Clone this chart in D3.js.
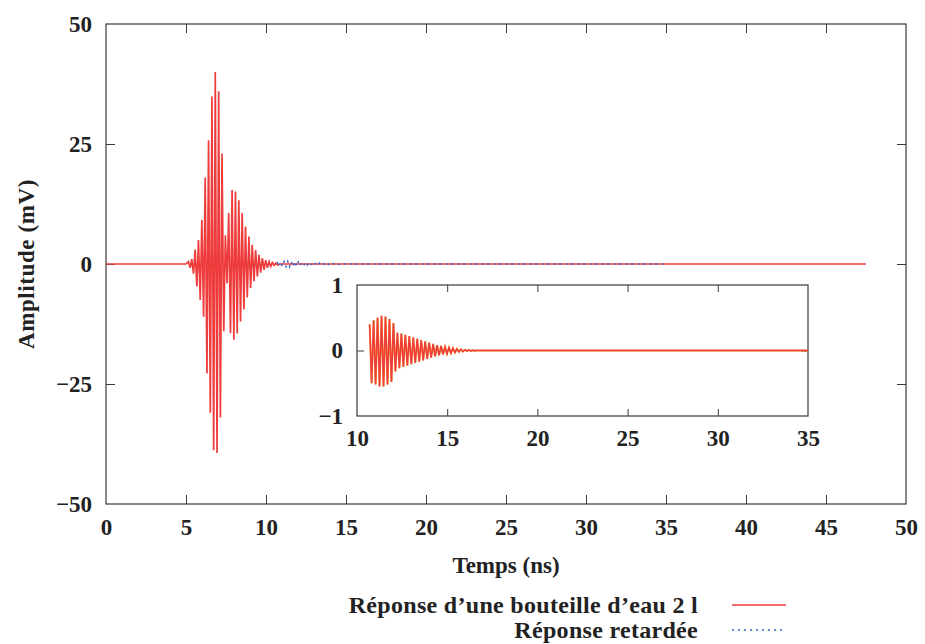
<!DOCTYPE html>
<html>
<head>
<meta charset="utf-8">
<script src="https://cdn.jsdelivr.net/npm/d3@7"></script>
<style>
  body { margin: 0; background: #fff; }
  svg text { font-family: "Liberation Serif", "DejaVu Serif", serif; font-weight: bold; fill: #222; }
</style>
</head>
<body>
<svg id="chart" width="925" height="644"></svg>
<script>
// ---------- DATA ----------
const xTicks = [0, 5, 10, 15, 20, 25, 30, 35, 40, 45, 50];
const yTicks = [50, 25, 0, -25, -50];
const yTickLabels = ["50", "25", "0", "\u221225", "\u221250"];
const insetXTicks = [10, 15, 20, 25, 30, 35];
const insetYTicks = [1, 0, -1];
const insetYTickLabels = ["1", "0", "\u22121"];

// Response of a 2 l water bottle (mV) : successive extrema of the oscillation
const mainTimes = [0, 5.00, 5.15, 5.26, 5.36, 5.47, 5.57, 5.68, 5.78, 5.89, 5.99,
  6.10, 6.20, 6.31, 6.41, 6.52, 6.62, 6.73, 6.83, 6.94, 7.04,
  7.15, 7.25, 7.36, 7.46, 7.57, 7.67, 7.78, 7.88, 7.99, 8.09,
  8.20, 8.30, 8.41, 8.51, 8.62, 8.72, 8.83, 8.93, 9.04, 9.14,
  9.25, 9.35, 9.46, 9.56, 9.67, 9.77, 9.88, 9.98, 10.09, 10.19,
  10.30, 10.40, 10.51, 10.61, 10.72, 10.90, 47.5];
const mainValues = [0, 0, 0.5, -0.8, 1.0, -2.0, 3.0, -4.7, 5.0, -7.5, 9.2,
  -11, 18, -22.8, 25.8, -31, 34.9, -38.8, 40, -39.4, 36,
  -32, 23, -14, 6, -4, 10.6, -14.4, 15.4, -15.8, 15.1,
  -14.5, 13.3, -12, 10.6, -9.5, 7.8, -7, 5.7, -5, 4.0,
  -3.6, 2.9, -2.6, 1.9, -1.8, 1.2, -1.2, 0.8, -0.8, 0.5,
  -0.5, 0.3, -0.3, 0.2, -0.2, 0, 0];

// Delayed response (mV) : successive extrema
const delayTimes = [10.70, 10.81, 10.92, 11.03, 11.14, 11.25, 11.36, 11.47, 11.58, 11.69,
  11.80, 11.91, 12.02, 12.13, 12.24, 12.35, 12.46, 12.57, 12.68, 12.79,
  12.90, 13.01, 13.12, 13.23, 13.34, 13.45, 13.56, 13.67, 13.78, 13.89,
  14.00, 14.11, 14.22, 14.33, 14.44, 14.55, 14.66, 14.77, 14.88, 14.99,
  15.10, 15.21, 15.32, 15.43, 15.54, 15.65, 15.76, 15.87, 15.98, 16.09,
  16.20, 16.31, 16.42, 16.53, 16.64, 35];
const delayValues = [0.40, -0.50, 0.46, -0.52, 0.50, -0.55, 0.53, -0.55, 0.52, -0.52,
  0.48, -0.48, 0.42, -0.32, 0.27, -0.27, 0.26, -0.25, 0.24, -0.23,
  0.22, -0.21, 0.20, -0.19, 0.18, -0.17, 0.16, -0.15, 0.14, -0.13,
  0.12, -0.11, 0.10, -0.09, 0.08, -0.075, 0.07, -0.06, 0.055, -0.05,
  0.045, -0.04, 0.035, -0.03, 0.025, -0.02, 0.018, -0.015, 0.012, -0.01,
  0.008, -0.006, 0.004, -0.003, 0, 0];

const legendLabels = ["R\u00e9ponse d\u2019une bouteille d\u2019eau 2 l", "R\u00e9ponse retard\u00e9e"];

// ---------- DRAWING ----------
const svg = d3.select("#chart");
const RED = "#ee3b3b";
const BLUE = "#3a5fd0";
const FRAME = "#3a3a3a";
const FS = 23;

const mainData = mainTimes.map((t, i) => ({ t, v: mainValues[i] }));
const delayData = delayTimes.map((t, i) => ({ t, v: delayValues[i] }));

const x = d3.scaleLinear().domain([0, 50]).range([106, 906]);
const y = d3.scaleLinear().domain([-50, 50]).range([504, 24]);

svg.append("rect").attr("x", 106).attr("y", 24).attr("width", 800).attr("height", 480)
  .attr("fill", "none").attr("stroke", FRAME).attr("stroke-width", 1.2);

function styleAxis(g) {
  g.select(".domain").remove();
  g.selectAll(".tick line").attr("stroke", FRAME).attr("stroke-width", 1);
  g.selectAll(".tick text").attr("font-size", FS).attr("fill", "#222")
    .style("font-family", "'Liberation Serif', serif").style("font-weight", "bold");
}

const tickLen = 9;
const gB = svg.append("g").attr("transform", "translate(0,504)")
  .call(d3.axisBottom(x).tickValues(xTicks).tickSizeInner(-tickLen).tickSizeOuter(0).tickPadding(15));
const gT = svg.append("g").attr("transform", "translate(0,24)")
  .call(d3.axisTop(x).tickValues(xTicks).tickSizeInner(-tickLen).tickSizeOuter(0).tickFormat(""));
const gL = svg.append("g").attr("transform", "translate(106,0)")
  .call(d3.axisLeft(y).tickValues(yTicks).tickSizeInner(-tickLen).tickSizeOuter(0).tickPadding(14)
    .tickFormat((d, i) => yTickLabels[i]));
const gR = svg.append("g").attr("transform", "translate(906,0)")
  .call(d3.axisRight(y).tickValues(yTicks).tickSizeInner(-tickLen).tickSizeOuter(0).tickFormat(""));
[gB, gT, gL, gR].forEach(styleAxis);
[gB, gT].forEach(g => g.selectAll(".tick line").filter(d => d === 0 || d === 50).remove());
[gL, gR].forEach(g => g.selectAll(".tick line").filter(d => d === 50 || d === -50).remove());

svg.append("text").attr("x", 506).attr("y", 573).attr("text-anchor", "middle")
  .attr("font-size", FS).text("Temps (ns)");
svg.append("text").attr("transform", "translate(34,264) rotate(-90)").attr("text-anchor", "middle")
  .attr("font-size", FS).attr("letter-spacing", 0.6).text("Amplitude (mV)");

const lineMain = d3.line().x(d => x(d.t)).y(d => y(d.v));
svg.append("path").datum(mainData).attr("d", lineMain)
  .attr("fill", "none").attr("stroke", RED).attr("stroke-width", 1.7);
svg.append("path").datum(delayData).attr("d", lineMain)
  .attr("fill", "none").attr("stroke", BLUE).attr("stroke-width", 1.5)
  .attr("stroke-dasharray", "2,4");

// ---------- INSET ----------
const xi = d3.scaleLinear().domain([10, 35]).range([357, 808]);
const yi = d3.scaleLinear().domain([-1, 1]).range([416, 285]);

svg.append("rect").attr("x", 357).attr("y", 285).attr("width", 451).attr("height", 131)
  .attr("fill", "#fff").attr("stroke", FRAME).attr("stroke-width", 1.2);

const itl = 7;
const iB = svg.append("g").attr("transform", "translate(0,416)")
  .call(d3.axisBottom(xi).tickValues(insetXTicks).tickSizeInner(-itl).tickSizeOuter(0).tickPadding(14));
const iT = svg.append("g").attr("transform", "translate(0,285)")
  .call(d3.axisTop(xi).tickValues(insetXTicks).tickSizeInner(-itl).tickSizeOuter(0).tickFormat(""));
const iL = svg.append("g").attr("transform", "translate(357,0)")
  .call(d3.axisLeft(yi).tickValues(insetYTicks).tickSizeInner(-itl).tickSizeOuter(0).tickPadding(14)
    .tickFormat((d, i) => insetYTickLabels[i]));
const iR = svg.append("g").attr("transform", "translate(808,0)")
  .call(d3.axisRight(yi).tickValues(insetYTicks).tickSizeInner(-itl).tickSizeOuter(0).tickFormat(""));
[iB, iT, iL, iR].forEach(styleAxis);
[iB, iT].forEach(g => g.selectAll(".tick line").filter(d => d === 10 || d === 35).remove());
[iL, iR].forEach(g => g.selectAll(".tick line").filter(d => d === 1 || d === -1).remove());

const lineInset = d3.line().x(d => xi(d.t)).y(d => yi(d.v));
svg.append("path").datum(delayData).attr("d", lineInset)
  .attr("fill", "none").attr("stroke", "#f3a33a").attr("stroke-width", 2.0);
svg.append("path").datum(delayData).attr("d", lineInset)
  .attr("fill", "none").attr("stroke", RED).attr("stroke-width", 1.5);

// ---------- LEGEND ----------
const legendY = [605, 630];
svg.selectAll("text.leg").data(legendLabels).enter().append("text")
  .attr("class", "leg").attr("x", 698).attr("y", (d, i) => legendY[i] + 8)
  .attr("text-anchor", "end").attr("font-size", 24).attr("letter-spacing", 0.3).text(d => d);
svg.append("line").attr("x1", 732).attr("x2", 786).attr("y1", legendY[0]).attr("y2", legendY[0])
  .attr("stroke", RED).attr("stroke-width", 1.3);
svg.append("line").attr("x1", 732).attr("x2", 786).attr("y1", legendY[1]).attr("y2", legendY[1])
  .attr("stroke", BLUE).attr("stroke-width", 1.5).attr("stroke-dasharray", "2,4");
</script>
</body>
</html>
